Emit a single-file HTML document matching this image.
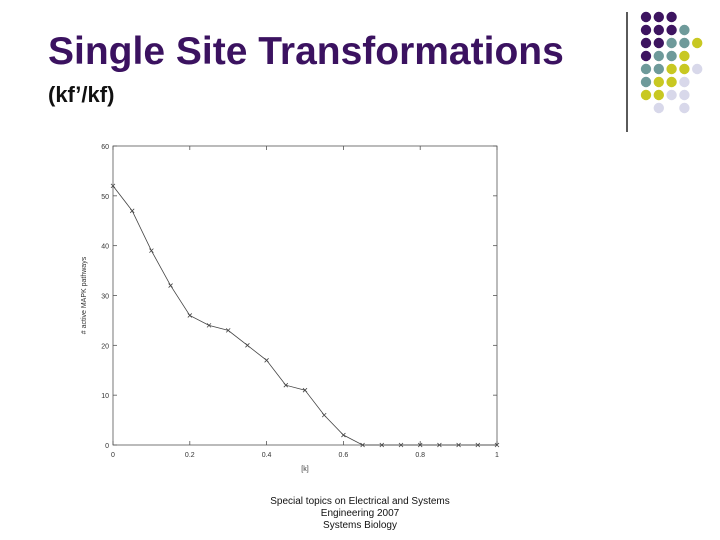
<!DOCTYPE html>
<html><head><meta charset="utf-8"><style>
body{margin:0;width:720px;height:540px;background:#fff;overflow:hidden;position:relative;font-family:"Liberation Sans",sans-serif}
#title{position:absolute;left:48px;top:30px;font-size:39px;font-weight:bold;color:#3b1260;white-space:nowrap}
#sub{position:absolute;left:48px;top:82px;font-size:22px;font-weight:bold;color:#111}
#foot{position:absolute;left:260px;top:496px;width:200px;text-align:center;font-size:10px;line-height:12px;color:#111}
</style></head><body>
<div id="title">Single Site Transformations</div>
<div id="sub">(kf’/kf)</div>
<div id="foot">Special topics on Electrical and Systems Engineering 2007<br>Systems Biology</div>
<svg id="deco" width="720" height="140" style="position:absolute;left:0;top:0"></svg>
<svg id="chart" width="720" height="540" style="position:absolute;left:0;top:0"></svg>
<script>
const xs=[0,0.05,0.1,0.15,0.2,0.25,0.3,0.35,0.4,0.45,0.5,0.55,0.6,0.65,0.7,0.75,0.8,0.85,0.9,0.95,1];
const ys=[52,47,39,32,26,24,23,20,17,12,11,6,2,0,0,0,0,0,0,0,0];
const xTicks=[0,0.2,0.4,0.6,0.8,1];
const xTickLabels=["0","0.2","0.4","0.6","0.8","1"];
const yTicks=[0,10,20,30,40,50,60];
const NS="http://www.w3.org/2000/svg";
function mk(p,t,a){const e=document.createElementNS(NS,t);for(const k in a)e.setAttribute(k,a[k]);p.appendChild(e);return e;}
const L=113,R=497,T=146,B=445;
const sx=v=>L+v*(R-L), sy=v=>B-v/60*(B-T);
const c=document.getElementById('chart');
const frame=mk(c,'rect',{x:L,y:T,width:R-L,height:B-T,fill:'none',stroke:'#555','stroke-width':0.8});


yTicks.forEach(v=>{
 mk(c,'line',{x1:L,x2:L+4,y1:sy(v),y2:sy(v),stroke:'#555','stroke-width':0.8});
 mk(c,'line',{x1:R,x2:R-4,y1:sy(v),y2:sy(v),stroke:'#555','stroke-width':0.8});
 const t=mk(c,'text',{x:L-4,y:sy(v)+3,'text-anchor':'end','font-size':7,fill:'#333'});t.textContent=v;
 
 
});
xTicks.forEach((v,i)=>{
 mk(c,'line',{x1:sx(v),x2:sx(v),y1:B,y2:B-4,stroke:'#555','stroke-width':0.8});
 mk(c,'line',{x1:sx(v),x2:sx(v),y1:T,y2:T+4,stroke:'#555','stroke-width':0.8});
 const t=mk(c,'text',{x:sx(v),y:B+12,'text-anchor':'middle','font-size':7,fill:'#333'});t.textContent=xTickLabels[i];
 
 
});
const xt=mk(c,'text',{x:(L+R)/2,y:B+26,'text-anchor':'middle','font-size':7,fill:'#333'});xt.textContent='[k]';


const yt=mk(c,'text',{x:0,y:0,'text-anchor':'middle','font-size':7,fill:'#333',transform:`translate(86,${(T+B)/2}) rotate(-90)`});yt.textContent='# active MAPK pathways';


const line=mk(c,'polyline',{points:xs.map((x,i)=>sx(x)+','+sy(ys[i])).join(' '),fill:'none',stroke:'#444','stroke-width':0.8});


xs.forEach((x,i)=>{
 const g=mk(c,'g',{stroke:'#444','stroke-width':0.8});
 
 
 const px=sx(x),py=sy(ys[i]);
 mk(g,'line',{x1:px-2,y1:py-2,x2:px+2,y2:py+2});mk(g,'line',{x1:px-2,y1:py+2,x2:px+2,y2:py-2});
});
const d=document.getElementById('deco');
mk(d,'line',{x1:627,y1:12,x2:627,y2:132,stroke:'#222','stroke-width':1.5});
const P='#3d1460',Tl='#6e9a9a',Y='#c8c822',Lv='#d8d8ea';
const rows=[[P,P,P],[P,P,P,Tl],[P,P,Tl,Tl,Y],[P,Tl,Tl,Y],[Tl,Tl,Y,Y,Lv],[Tl,Y,Y,Lv],[Y,Y,Lv,Lv],[null,Lv,null,Lv]];
rows.forEach((r,ri)=>r.forEach((col,ci)=>{if(col){const e=mk(d,'circle',{cx:646+ci*12.8,cy:17+ri*13,r:5.2,fill:col});
 
 }}));
</script>
</body></html>
